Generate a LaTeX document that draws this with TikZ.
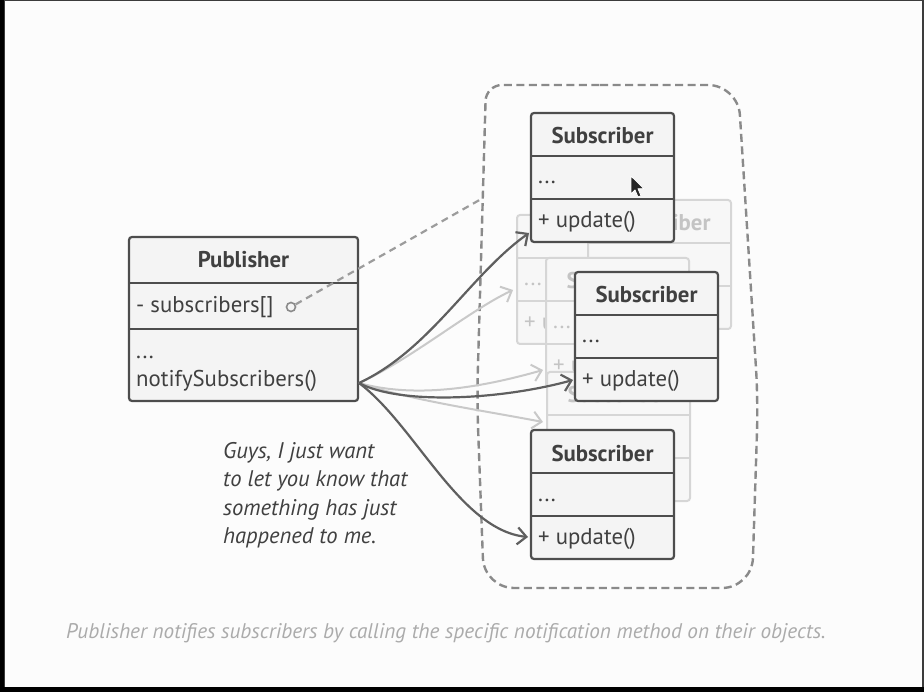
\documentclass[tikz,border=0pt]{standalone}
\usepackage{fontspec}
\setmainfont{PT Sans}
\usetikzlibrary{arrows.meta,calc}
\definecolor{boxline}{HTML}{4D4D4D}
\definecolor{boxfill}{HTML}{F4F4F4}
\definecolor{txt}{HTML}{404040}
\definecolor{fadeline}{HTML}{D6D6D6}
\definecolor{fadefill}{HTML}{F7F7F7}
\definecolor{fadetxt}{HTML}{C4C4C4}
\definecolor{arrdark}{HTML}{5F5F5F}
\definecolor{arrlight}{HTML}{C9C9C9}
\definecolor{dashc}{HTML}{8A8A8A}
\definecolor{capc}{HTML}{ABABAB}
\definecolor{framegray}{HTML}{3C3C3C}
\newcommand\boxfont{\fontsize{22.8}{26}\selectfont}
% #1 name, #2 x, #3 y, #4 title, #5 attribute, #6 method, #7 style prefix
\newcommand\mkclass[7]{%
  \coordinate (#1) at (#2,#3);
  \path[#7fill, rounded corners=3pt] (#1) rectangle ++(143,129);
  \node[#7text, font=\boxfont\bfseries, anchor=base, inner sep=0pt] (#1h) at ($(#1)+(71.5,31)$) {#4};
  \node[#7text, font=\boxfont, anchor=base west, inner sep=0pt] (#1a) at ($(#1)+(7,71)$) {#5};
  \node[#7text, font=\boxfont, anchor=base west, inner sep=0pt] (#1m) at ($(#1)+(7,114.5)$) {#6};
  \draw[#7line, rounded corners=3pt] (#1) rectangle ++(143,129);
  \draw[#7line] ($(#1)+(0,43)$) -- ++(143,0) ($(#1)+(0,86)$) -- ++(143,0);
}
\begin{document}
\begin{tikzpicture}[x=1pt,y=-1pt,
  mainfill/.style={fill=boxfill},
  maintext/.style={text=txt},
  mainline/.style={draw=boxline, line width=2.2pt},
  fadefill/.style={fill=fadefill},
  fadetext/.style={text=fadetxt},
  fadeline/.style={draw=fadeline, line width=2pt},
  darkarrow/.style={draw=arrdark, line width=2.2pt, -{Straight Barb[length=9pt,width=17pt,line width=2.2pt]}},
  lightarrow/.style={draw=arrlight, line width=2pt, -{Straight Barb[length=9pt,width=17pt,line width=2pt]}},
  contdash/.style={draw=dashc, line width=2.4pt, dash pattern=on 8pt off 4.5pt},
  refdash/.style={draw=dashc!85, line width=2.2pt, dash pattern=on 7pt off 5pt}]
\useasboundingbox (0,0) rectangle (924,692);
% frame
\fill[black] (0,0) rectangle (924,692);
\fill[framegray] (4,0) rectangle (924,687);
\fill[white!99!black] (4.5,1.5) rectangle (922,686.5);

% container
\draw[contdash] (600,85) [rounded corners=30pt] -- (738,85) -- (758,400) -- (752,588) -- (484,588) -- (477,400) [rounded corners=16pt] -- (486,85) -- (600,85);

% faded subscribers (partly hidden behind the front ones)
\mkclass{sB}{517}{215}{}{...}{+ update()}{fade}
\mkclass{sA}{588}{200}{Subscriber}{}{}{fade}
\mkclass{sC}{546}{258}{Subscriber}{...}{+ update()}{fade}
\mkclass{sD}{547}{372}{Subscriber}{}{}{fade}

% publisher
\path[mainfill, rounded corners=3pt] (129,237) rectangle (358,401);
\node[maintext, font=\boxfont\bfseries, anchor=base, inner sep=0pt] (pubh) at (243.5,268) {Publisher};
\node[maintext, font=\boxfont, anchor=base west, inner sep=0pt] (puba) at (136,313) {- subscribers[]};
\node[maintext, font=\boxfont, anchor=base west, inner sep=0pt] (pubd) at (136,359) {...};
\node[maintext, font=\boxfont, anchor=base west, inner sep=0pt] (pubm) at (136,387) {notifySubscribers()};
\draw[mainline, rounded corners=3pt] (129,237) rectangle (358,401);
\draw[mainline] (129,283) -- (358,283) (129,329) -- (358,329);
\node[circle, draw=dashc, line width=1.6pt, minimum size=9pt, inner sep=0pt] (pubc) at (291,307) {};

% reference dashed line
\coordinate (contl) at (483,198);
\draw[refdash] (pubc) -- (contl);

% connectors
\coordinate (pubout) at (359,383);
\coordinate (eB) at (513,290);
\coordinate (eC) at (543,370);
\coordinate (eD) at (543,422);
\coordinate (e1) at (529,233);
\coordinate (e2) at (573,380);
\coordinate (e3) at (528,537);
\draw[lightarrow] (pubout) .. controls (410,360) and (470,310) .. (eB);
\draw[lightarrow] (pubout) .. controls (420,400) and (490,385) .. (eC);
\draw[lightarrow] (pubout) .. controls (410,400) and (480,410) .. (eD);
\draw[darkarrow] (pubout) .. controls (430,350) and (470,275) .. (e1);
\draw[darkarrow] (pubout) .. controls (400,405) and (500,400) .. (e2);
\draw[darkarrow] (pubout) .. controls (415,425) and (460,530) .. (e3);

% main subscribers
\mkclass{s1}{531}{113}{Subscriber}{...}{+ update()}{main}
\mkclass{s2}{575}{272}{Subscriber}{...}{+ update()}{main}
\mkclass{s3}{531}{430}{Subscriber}{...}{+ update()}{main}

% mouse cursor
\filldraw[draw=white, fill=black!85, line width=0.8pt, line join=round] (631,176) -- ++(0,18) -- ++(4,-4) -- ++(3,7) -- ++(3,-1.3) -- ++(-3,-7) -- ++(6,0) -- cycle;

% note text
\node[text=txt, font=\fontsize{22.6}{28.5}\selectfont\itshape, anchor=north west, align=left, inner sep=0pt] (note) at (223,442) {Guys, I just want\\to let you know that\\something has just\\happened to me.};

% caption
\node[text=capc, font=\fontsize{21.2}{24}\selectfont\itshape, anchor=base west, inner sep=0pt] (cap) at (66,638) {Publisher notifies subscribers by calling the specific notification method on their objects.};
\end{tikzpicture}
\end{document}
